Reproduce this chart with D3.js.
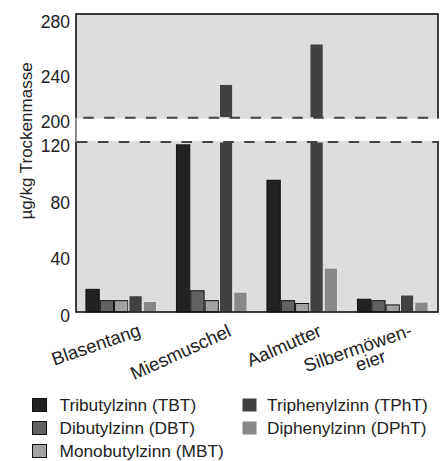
<!DOCTYPE html>
<html><head><meta charset="utf-8">
<script src="https://cdn.jsdelivr.net/npm/d3@7"></script>
<style>body{margin:0;background:#fff}svg{display:block}text{font-family:"Liberation Sans",Arial,Helvetica,sans-serif;fill:#222}</style>
</head><body><svg id="c" width="444" height="461"></svg>
<script>
const categories = ["Blasentang","Miesmuschel","Aalmutter","Silbermöweneier"];
const categoryLines = [["Blasentang"],["Miesmuschel"],["Aalmutter"],["Silbermöwen-","eier"]];
const series = ["Tributylzinn (TBT)","Dibutylzinn (DBT)","Monobutylzinn (MBT)","Triphenylzinn (TPhT)","Diphenylzinn (DPhT)"];
const TBT  = [16, 118, 93, 9];
const DBT  = [8, 15, 8, 8];
const MBT  = [8, 8, 6, 5];
const TPhT = [11.5, 230, 261, 12];
const DPhT = [7.5, 14, 31, 7];
const lowTicks = [0, 40, 80, 120];
const highTicks = [200, 240, 280];
const yLabel = "µg/kg Trockenmasse";

// label styling (angles of the slanted category labels)
const labelAngles = [19, 24.5, 23.5, 19];

const values = [TBT, DBT, MBT, TPhT, DPhT];
const colors = ["#222222","#626262","#a2a2a2","#414141","#888888"];
const strokes = ["#111","#111","#111","#e8e8e8","#e8e8e8"];

const svg = d3.select("#c");
const L = 76, R = 438, T = 14, B = 312;
const breakTop = 117.7, breakBot = 142;

const x0 = d3.scaleBand().domain(categories).range([L, R]).padding(0);
const x1 = d3.scaleBand().domain(series).range([0, x0.bandwidth()]).paddingInner(0).paddingOuter(0.66);
const yLow = d3.scaleLinear().domain([0, 120]).range([B, breakBot]);
const yHigh = d3.scaleLinear().domain([200, 240, 280]).range([breakTop, 73.2, 17.5]);

// plot background
svg.append("rect").attr("x", L).attr("y", T).attr("width", R - L).attr("height", B - T).attr("fill", "#dddddd");

// bars
const g = svg.append("g");
values.forEach((arr, si) => {
  arr.forEach((v, ci) => {
    const bx = x0(categories[ci]) + x1(series[si]) + 0.5;
    const bw = x1.bandwidth() - 1;
    const lowV = Math.min(v, 120);
    g.append("rect").attr("x", bx).attr("width", bw)
      .attr("y", yLow(lowV)).attr("height", yLow(0) - yLow(lowV))
      .attr("fill", colors[si]).attr("stroke", strokes[si]).attr("stroke-width", 1);
    if (v > 200) {
      g.append("rect").attr("x", bx).attr("width", bw)
        .attr("y", yHigh(v)).attr("height", yHigh(200) - yHigh(v))
        .attr("fill", colors[si]).attr("stroke", strokes[si]).attr("stroke-width", 1);
    }
  });
});

// frame
svg.append("rect").attr("x", L).attr("y", T).attr("width", R - L).attr("height", B - T)
  .attr("fill", "none").attr("stroke", "#111").attr("stroke-width", 1.6);

// break band
svg.append("rect").attr("x", L + 0.8).attr("y", breakTop + 1).attr("width", R - L + 2).attr("height", breakBot - breakTop - 2).attr("fill", "#fff");
svg.append("line").attr("x1", L).attr("x2", L).attr("y1", breakTop).attr("y2", breakBot).attr("stroke", "#c8c8c8").attr("stroke-width", 1);
svg.append("line").attr("x1", L + 1).attr("x2", R).attr("y1", breakTop).attr("y2", breakTop)
  .attr("stroke", "#444").attr("stroke-width", 2).attr("stroke-dasharray", "10.5,10.4").attr("stroke-dashoffset", 14.6);
svg.append("line").attr("x1", L + 1).attr("x2", R).attr("y1", breakBot).attr("y2", breakBot)
  .attr("stroke", "#444").attr("stroke-width", 2).attr("stroke-dasharray", "10.5,10.4");

// y axes
function drawAxis(scale, ticks) {
  const ax = svg.append("g").attr("transform", `translate(${L},0)`)
    .call(d3.axisLeft(scale).tickValues(ticks).tickSize(0).tickPadding(6).tickFormat(d3.format("d")));
  ax.select(".domain").remove();
  ax.selectAll("text").attr("font-size", 17.5).attr("fill", "#222")
    .attr("font-family", '"Liberation Sans",Arial,sans-serif').attr("dy", "0.55em");
}
drawAxis(yLow, lowTicks);
drawAxis(yHigh, highTicks);

// y label
svg.append("text").attr("transform", "translate(32,141) rotate(-90)")
  .attr("text-anchor", "middle").attr("font-size", 17).text(yLabel);

// x labels
categories.forEach((c, i) => {
  const cx = x0(c) + x0.bandwidth() / 2;
  const gg = svg.append("g").attr("transform", `translate(${cx + 20.5},335.5) rotate(${-labelAngles[i]})`);
  const lines = categoryLines[i];
  const t1 = gg.append("text").attr("text-anchor", "end").attr("font-size", 18.5).text(lines[0]);
  if (lines.length > 1) {
    const w = t1.node().getComputedTextLength();
    gg.append("text").attr("text-anchor", "middle").attr("x", -w / 2 + 8).attr("y", 16)
      .attr("font-size", 18.5).text(lines[1]);
  }
});

// legend
const legendPos = [[32,398],[32,421],[32,444],[242,398],[242,421]];
series.forEach((s, i) => {
  const [lx, ly] = legendPos[i];
  const hasBorder = i < 3;
  svg.append("rect").attr("x", lx + 0.5).attr("y", ly + 0.5).attr("width", 14).attr("height", 13)
    .attr("fill", colors[i]).attr("stroke", hasBorder ? "#111" : "none").attr("stroke-width", 1);
  svg.append("text").attr("x", i < 3 ? 59.5 : 267).attr("y", ly + 12.8).attr("font-size", 17.3).text(s);
});
</script></body></html>
